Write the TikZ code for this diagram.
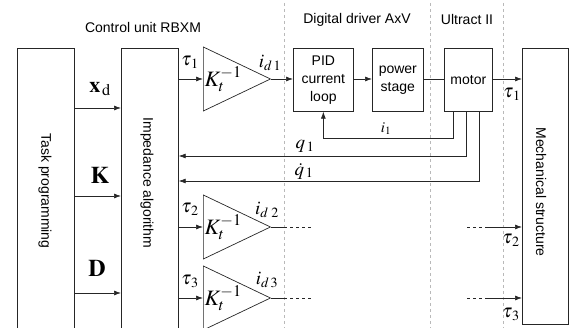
\documentclass[tikz,border=0pt]{standalone}
\usepackage{mathptmx}
\usepackage{fontspec}
\setmainfont{Liberation Sans}
\usetikzlibrary{shapes.geometric, arrows.meta, positioning, calc}

\begin{document}
\begin{tikzpicture}[x=1pt, y=-1pt, line width=0.7pt, draw=black!85,
    >={Latex[length=7pt, width=5pt]},
    font=\fontsize{14}{18}\selectfont,
    blk/.style={draw, inner sep=0pt, align=center, anchor=north west},
    amp/.style={draw, isosceles triangle, isosceles triangle stretches, minimum width=64pt, minimum height=55pt, inner sep=0pt, anchor=lower side, font=\fontsize{22}{22}\selectfont},
    sepline/.style={draw=gray!55, dashed, line width=0.5pt},
    sig/.style={font=\fontsize{19}{19}\selectfont, inner sep=0pt},
    big/.style={font=\fontsize{24}{24}\selectfont, inner sep=0pt},
    cont/.style={dash pattern=on 3pt off 3pt}
]
    \useasboundingbox (0,0) rectangle (570,328);
    \clip (0,0) rectangle (570,328);
    % section borders
    \coordinate (sep1) at (284,3);
    \coordinate (sep2) at (430,3);
    \coordinate (sep3) at (503,3);
    \foreach \s in {sep1,sep2,sep3}
        \draw[sepline] (\s) -- (\s |- 0,330);
    \node (rbxm) at (143,28) {Control unit RBXM};
    \node (axv) at (357,20) {Digital driver AxV};
    \node (ultract) at (467,20) {Ultract II};

    % blocks
    \node[blk, minimum width=57pt, minimum height=290pt] (task) at (17,48) {};
    \node[rotate=-90] at (45,191) {Task programming};
    \node[blk, minimum width=57pt, minimum height=290pt] (imped) at (121,48) {};
    \node[rotate=-90] at (147,183) {Impedance algorithm};
    \node[blk, minimum width=60pt, minimum height=63pt] (pid) at (293,48) {PID\\current\\loop};
    \node[blk, minimum width=51pt, minimum height=63pt] (power) at (372,48) {power\\stage};
    \node[blk, minimum width=48pt, minimum height=63pt] (motor) at (444,48) {motor};
    \node[blk, minimum width=46pt, minimum height=276pt] (mech) at (522,48) {};
    \node[rotate=-90] at (541,192) {Mechanical structure};

    % references from task programming
    \foreach \y/\n in {108/xd, 196/kk, 293/dd}
        \draw[->] (task.east |- 0,\y) coordinate (\n) -- (imped.west |- 0,\y);
    \node[font=\fontsize{22}{22}\selectfont, inner sep=0pt] (xdlbl) at (100,89) {$\mathbf{x}_{\,\mathrm{d}}$};
    \node[big] (klbl) at (100,175) {$\mathbf{K}$};
    \node[big] (dlbl) at (97,268) {$\mathbf{D}$};

    % amplifiers
    \node[amp] (amp1) at (203,79) {$K_t^{-1}$};
    \node[amp] (amp2) at (203,227) {$K_t^{-1}$};
    \node[amp] (amp3) at (203,298) {$K_t^{-1}$};
    \foreach \a in {amp1,amp2,amp3}
        \draw[->] (imped.east |- \a.lower side) -- (\a.lower side);
    \node[sig] (tau1) at (190,62) {$\tau_{\,1}$};
    \node[sig] (tau2) at (190,209) {$\tau_{\,2}$};
    \node[sig] (tau3) at (190,281) {$\tau_{\,3}$};
    \node[sig] (id1) at (270,63) {$i_{d\,1}$};
    \node[sig] (id2) at (267,210) {$i_{d\;2}$};
    \node[sig] (id3) at (267,280) {$i_{d\,3}$};

    % joint 1 chain
    \draw[->] (amp1.apex) -- (pid.west |- amp1.apex);
    \draw[->] (pid.east |- amp1.apex) -- (power.west |- amp1.apex);
    \draw (power.east |- amp1.apex) -- (motor.west |- amp1.apex);
    \draw[->] (motor.east |- amp1.apex) -- (mech.west |- amp1.apex);
    \node[sig] (tauout1) at (512,94) {$\tau_{\,1}$};

    % feedback
    \coordinate (i1) at (453,138);
    \coordinate (q1) at (466,156);
    \coordinate (qd1) at (479,181);
    \draw[->] (i1 |- motor.south) -- (i1) -- (pid.south |- i1) -- (pid.south);
    \draw[->] (q1 |- motor.south) -- (q1) -- (imped.east |- q1);
    \draw[->] (qd1 |- motor.south) -- (qd1) -- (imped.east |- qd1);
    \node[font=\fontsize{15}{15}\selectfont, inner sep=0pt] (i1lbl) at (386,129) {$i_1$};
    \node[sig] (q1lbl) at (305,146) {$q_{\,1}$};
    \node[sig] (qd1lbl) at (304,171) {$\dot{q}_{\,1}$};

    % joints 2 and 3
    \foreach \a/\y in {amp2/227, amp3/298} {
        \draw (\a.apex) -- (sep1 |- 0,\y) coordinate (\a-s);
        \draw[cont] (\a-s) -- ++(30,0);
        \coordinate (\a-r) at (467,\y);
        \draw[cont] (\a-r) -- ++(20,0) coordinate (\a-rb);
        \draw[->] (\a-rb) -- (mech.west |- 0,\y);
    }
    \node[sig] (tauout2) at (511,240) {$\tau_{\,2}$};
    \node[sig] (tauout3) at (511,314) {$\tau_{\,3}$};
\end{tikzpicture}
\end{document}
